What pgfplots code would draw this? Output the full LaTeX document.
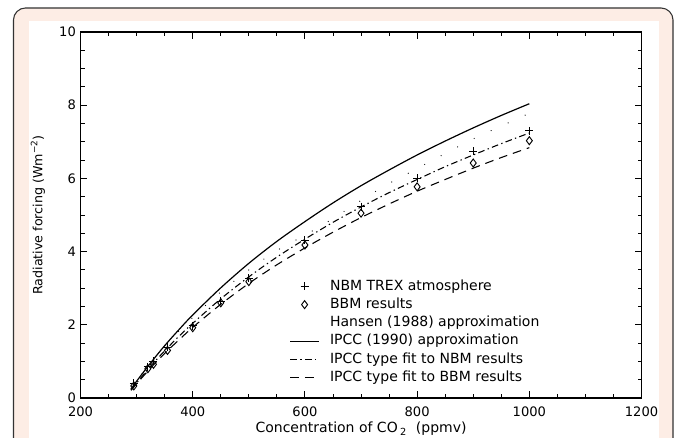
\documentclass[border=0pt]{standalone}
\usepackage{pgfplots}
\pgfplotsset{compat=1.18}
\usepackage{fontspec}
\setmainfont{DejaVu Sans}
\definecolor{peach}{HTML}{FDEDE5}

\begin{document}
\begin{tikzpicture}
% page frame
\useasboundingbox (0pt,0pt) rectangle (507.75pt,328.5pt);
\fill[white] (0pt,0pt) rectangle (507.75pt,328.5pt);
\draw[fill=peach, draw=black!80, line width=0.8pt, rounded corners=9pt] (10.1pt,-12pt) rectangle (504.75pt,322.5pt);
\fill[white] (21.75pt,-5pt) rectangle (494.25pt,312.75pt);

\begin{axis}[
  at={(60.4pt,30pt)}, anchor=south west,
  scale only axis, width=420.75pt, height=274.5pt,
  xmin=200, xmax=1200, ymin=0, ymax=10,
  xtick={200,400,...,1200}, ytick={0,2,...,10},
  minor x tick num=3, minor y tick num=3,
  major tick length=5pt, minor tick length=3pt,
  tick style={black, line width=0.7pt},
  axis line style={line width=0.9pt},
  /pgf/number format/assume math mode=true,
  /pgf/number format/1000 sep={},
  tick label style={font=\fontsize{9.8}{11}\selectfont},
  xticklabel style={yshift=-3pt},
  xlabel={Concentration of CO\,\textsubscript{2}\ \ (ppmv)},
  ylabel={Radiative forcing (Wm\textsuperscript{−2})},
  xlabel style={font=\fontsize{10.5}{12}\selectfont, at={(axis description cs:0.5,-0.085)}, anchor=center},
  ylabel style={font=\fontsize{9.5}{11}\selectfont, at={(axis description cs:-0.076,0.5)}, anchor=center},
  legend cell align=left,
  legend style={at={(axis description cs:0.365,0.334)}, anchor=north west,
    draw=none, fill=none, font=\fontsize{10.5}{12}\selectfont,
    row sep=2.2pt, nodes={inner sep=1pt, text height=7.5pt, text depth=2pt}},
  legend image code/.code={\draw[#1] (0cm,0cm) -- (0.76cm,0cm); \path (1.0cm,0cm);},
]
% NBM TREX atmosphere
\addplot[only marks, mark=+, mark size=3pt, line width=0.7pt,
  legend image code/.code={\draw[mark=+, mark size=3pt, line width=0.7pt] plot coordinates {(0.38cm,0cm)}; \path (0cm,0cm) (1.0cm,0cm);}]
  coordinates {(295,0.40)(320,0.85)(330,1.00)(355,1.38)(400,1.97)(450,2.65)
               (500,3.27)(600,4.31)(700,5.23)(800,6.00)(900,6.74)(1000,7.30)};
\addlegendentry{NBM TREX atmosphere}
% BBM results
\addplot[only marks, mark=diamond, mark size=3pt, line width=0.7pt,
  legend image code/.code={\draw[mark=diamond, mark size=3pt, line width=0.7pt] plot coordinates {(0.38cm,0cm)}; \path (0cm,0cm) (1.0cm,0cm);}]
  coordinates {(295,0.33)(320,0.80)(330,0.92)(355,1.30)(400,1.92)(450,2.60)
               (500,3.18)(600,4.18)(700,5.05)(800,5.77)(900,6.42)(1000,7.03)};
\addlegendentry{BBM results}
% Hansen (1988)
\addplot[black, line width=0.9pt, line cap=round, dash pattern=on 0pt off 14pt, smooth,
  legend image code/.code={\path (0cm,0cm) (1.0cm,0cm);}]
  coordinates {(290,0.25)(300,0.47)(350,1.42)(400,2.20)(450,2.90)(500,3.50)
               (550,4.03)(600,4.45)(650,4.90)(700,5.40)(750,5.86)(800,6.27)
               (850,6.68)(900,7.08)(950,7.43)(1000,7.78)};
\addlegendentry{Hansen (1988) approximation}
% IPCC (1990)
\addplot[black, line width=0.9pt, smooth]
  coordinates {(290,0.24)(300,0.46)(325,0.96)(350,1.43)(375,1.86)(400,2.27)
               (450,3.01)(500,3.68)(550,4.28)(600,4.82)(650,5.33)(700,5.80)
               (750,6.23)(800,6.64)(850,7.02)(900,7.38)(950,7.72)(1000,8.04)};
\addlegendentry{IPCC (1990) approximation}
% IPCC type fit to NBM
\addplot[black, line width=0.8pt, smooth, dash pattern=on 5pt off 2.5pt on 1pt off 2.5pt]
  coordinates {(290,0.22)(300,0.41)(325,0.87)(350,1.29)(375,1.68)(400,2.04)
               (450,2.71)(500,3.31)(550,3.85)(600,4.34)(650,4.80)(700,5.22)
               (750,5.61)(800,5.97)(850,6.32)(900,6.64)(950,6.95)(1000,7.24)};
\addlegendentry{IPCC type fit to NBM results}
% IPCC type fit to BBM
\addplot[black, line width=0.8pt, smooth, dash pattern=on 6.5pt off 4.5pt]
  coordinates {(290,0.21)(300,0.39)(325,0.82)(350,1.22)(375,1.58)(400,1.93)
               (450,2.56)(500,3.13)(550,3.64)(600,4.10)(650,4.53)(700,4.93)
               (750,5.30)(800,5.65)(850,5.97)(900,6.28)(950,6.57)(1000,6.84)};
\addlegendentry{IPCC type fit to BBM results}
\end{axis}
\end{tikzpicture}
\end{document}
